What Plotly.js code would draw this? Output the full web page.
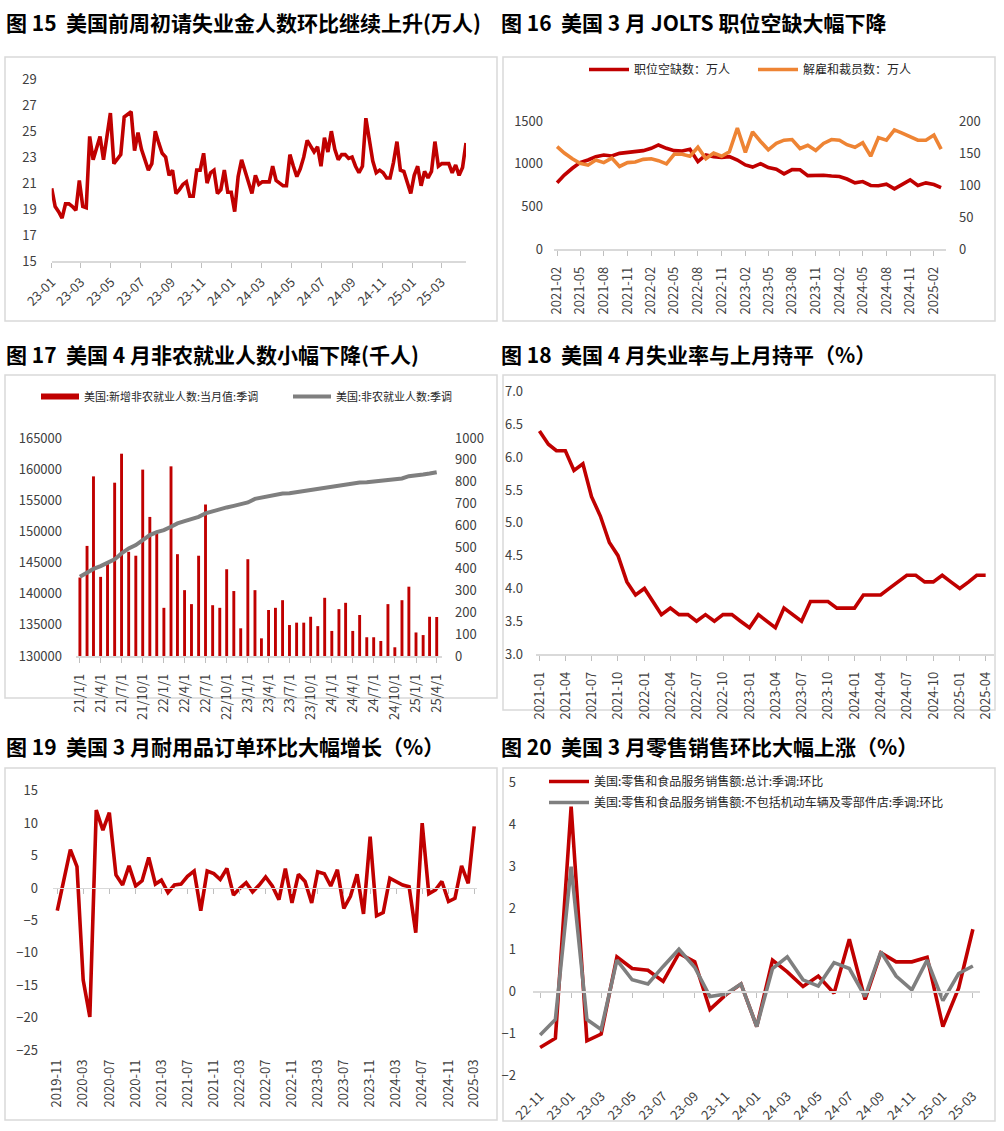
<!DOCTYPE html>
<html><head><meta charset="utf-8">
<script src="https://cdn.plot.ly/plotly-3.0.1.min.js"></script>
<style>html,body{margin:0;padding:0;background:#fff}#chart{width:1004px;height:1131px}</style>
</head><body><div id="chart"></div>
<script>
// ---------- Figure 15: weekly initial jobless claims (万人)
const claimsDates = ["2023-01-07","2023-01-14","2023-01-21","2023-01-28","2023-02-04","2023-02-11","2023-02-18","2023-02-25","2023-03-04","2023-03-11","2023-03-18","2023-03-25","2023-04-01","2023-04-08","2023-04-15","2023-04-22","2023-04-29","2023-05-06","2023-05-13","2023-05-20","2023-05-27","2023-06-03","2023-06-10","2023-06-17","2023-06-24","2023-07-01","2023-07-08","2023-07-15","2023-07-22","2023-07-29","2023-08-05","2023-08-12","2023-08-19","2023-08-26","2023-09-02","2023-09-09","2023-09-16","2023-09-23","2023-09-30","2023-10-07","2023-10-14","2023-10-21","2023-10-28","2023-11-04","2023-11-11","2023-11-18","2023-11-25","2023-12-02","2023-12-09","2023-12-16","2023-12-23","2023-12-30",
"2024-01-06","2024-01-13","2024-01-20","2024-01-27","2024-02-03","2024-02-10","2024-02-17","2024-02-24","2024-03-02","2024-03-09","2024-03-16","2024-03-23","2024-03-30","2024-04-06","2024-04-13","2024-04-20","2024-04-27","2024-05-04","2024-05-11","2024-05-18","2024-05-25","2024-06-01","2024-06-08","2024-06-15","2024-06-22","2024-06-29","2024-07-06","2024-07-13","2024-07-20","2024-07-27","2024-08-03","2024-08-10","2024-08-17","2024-08-24","2024-08-31","2024-09-07","2024-09-14","2024-09-21","2024-09-28","2024-10-05","2024-10-12","2024-10-19","2024-10-26","2024-11-02","2024-11-09","2024-11-16","2024-11-23","2024-11-30","2024-12-07","2024-12-14","2024-12-21","2024-12-28",
"2025-01-04","2025-01-11","2025-01-18","2025-01-25","2025-02-01","2025-02-08","2025-02-15","2025-02-22","2025-03-01","2025-03-08","2025-03-15","2025-03-22","2025-03-29","2025-04-05","2025-04-12","2025-04-19","2025-04-26"];
const claimsValues = [20.6,19.2,18.8,18.3,19.4,19.4,19.2,18.9,21.2,19.2,19.1,24.6,22.8,23.8,24.6,22.8,24.5,26.4,22.5,22.9,23.2,26.1,26.3,26.5,23.5,24.9,23.6,22.8,22.0,22.5,25.0,24.1,23.3,23.0,21.6,22.0,20.2,20.5,20.9,21.1,20.0,20.0,22.0,22.0,23.3,21.0,21.8,22.0,20.2,20.5,22.0,20.3,
20.3,18.8,21.5,22.8,22.0,21.0,20.2,21.6,20.9,21.1,21.1,21.1,22.3,21.2,21.0,20.8,20.8,23.2,22.3,21.5,22.1,23.0,24.3,23.8,23.4,23.8,22.3,24.5,23.4,25.0,23.6,22.8,23.2,23.2,22.9,23.0,22.3,21.8,22.3,26.0,24.1,22.7,21.8,22.0,21.8,21.4,21.4,22.6,24.2,22.0,21.9,21.1,
20.2,21.6,22.3,20.8,21.9,21.4,21.9,24.2,22.3,22.5,22.5,22.5,21.8,22.4,21.6,22.2,24.1];

// ---------- Figure 16: JOLTS
const joltsMonths = ["2021-02","2021-03","2021-04","2021-05","2021-06","2021-07","2021-08","2021-09","2021-10","2021-11","2021-12","2022-01","2022-02","2022-03","2022-04","2022-05","2022-06","2022-07","2022-08","2022-09","2022-10","2022-11","2022-12","2023-01","2023-02","2023-03","2023-04","2023-05","2023-06","2023-07","2023-08","2023-09","2023-10","2023-11","2023-12","2024-01","2024-02","2024-03","2024-04","2024-05","2024-06","2024-07","2024-08","2024-09","2024-10","2024-11","2024-12","2025-01","2025-02","2025-03"];
const joltsOpenings = [777,867,946,1012,1043,1082,1102,1090,1121,1129,1141,1153,1180,1219,1180,1153,1149,1168,1024,1102,1082,1074,1082,1043,985,960,1000,955,935,880,930,928,860,865,865,855,850,820,775,790,745,742,760,705,760,810,745,775,755,720];
const joltsLayoffs = [160,150,141,134,131,139,135,142,129,135,136,140,141,138,133,148,148,145,159,141,150,145,152,189,151,183,168,155,165,170,171,157,162,154,165,171,170,163,159,166,145,174,170,186,181,176,170,170,178,156];

// ---------- Figure 17: nonfarm payrolls
const nfpMonths = ["2021-01-01","2021-02-01","2021-03-01","2021-04-01","2021-05-01","2021-06-01","2021-07-01","2021-08-01","2021-09-01","2021-10-01","2021-11-01","2021-12-01","2022-01-01","2022-02-01","2022-03-01","2022-04-01","2022-05-01","2022-06-01","2022-07-01","2022-08-01","2022-09-01","2022-10-01","2022-11-01","2022-12-01","2023-01-01","2023-02-01","2023-03-01","2023-04-01","2023-05-01","2023-06-01","2023-07-01","2023-08-01","2023-09-01","2023-10-01","2023-11-01","2023-12-01","2024-01-01","2024-02-01","2024-03-01","2024-04-01","2024-05-01","2024-06-01","2024-07-01","2024-08-01","2024-09-01","2024-10-01","2024-11-01","2024-12-01","2025-01-01","2025-02-01","2025-03-01","2025-04-01"];
const nfpChange = [360,505,824,363,425,795,928,478,460,855,638,562,221,870,467,302,238,460,695,233,221,398,298,127,444,302,81,211,221,256,142,153,153,180,137,267,115,215,244,115,188,86,86,69,238,40,256,318,108,96,180,179];
const nfpTotal = [142720,143420,143980,144440,144970,145510,146470,147270,147800,148610,149410,149890,150210,150740,151290,151660,151980,152350,152890,153260,153530,153850,154110,154330,154650,155230,155450,155550,155770,156100,156140,156310,156520,156630,156840,157110,157270,157430,157590,157750,157860,157910,158020,158120,158230,158390,158500,158870,159080,159140,159300,159510];

// ---------- Figure 18: unemployment rate
const unempMonths = nfpMonths;
const unempRate = [6.4,6.2,6.1,6.1,5.8,5.9,5.4,5.1,4.7,4.5,4.1,3.9,4.0,3.8,3.6,3.7,3.6,3.6,3.5,3.6,3.5,3.6,3.6,3.5,3.4,3.6,3.5,3.4,3.7,3.6,3.5,3.8,3.8,3.8,3.7,3.7,3.7,3.9,3.9,3.9,4.0,4.1,4.2,4.2,4.1,4.1,4.2,4.1,4.0,4.1,4.2,4.2];

// ---------- Figure 19: durable goods orders MoM
const durMonths = ["2019-11","2019-12","2020-01","2020-02","2020-03","2020-04","2020-05","2020-06","2020-07","2020-08","2020-09","2020-10","2020-11","2020-12","2021-01","2021-02","2021-03","2021-04","2021-05","2021-06","2021-07","2021-08","2021-09","2021-10","2021-11","2021-12","2022-01","2022-02","2022-03","2022-04","2022-05","2022-06","2022-07","2022-08","2022-09","2022-10","2022-11","2022-12","2023-01","2023-02","2023-03","2023-04","2023-05","2023-06","2023-07","2023-08","2023-09","2023-10","2023-11","2023-12","2024-01","2024-02","2024-03","2024-04","2024-05","2024-06","2024-07","2024-08","2024-09","2024-10","2024-11","2024-12","2025-01","2025-02","2025-03"];
const durValues = [-3.5,1.2,5.9,3.3,-14.2,-19.9,12.0,8.9,11.6,2.0,0.45,3.4,0.3,1.1,4.7,0.6,1.2,-0.7,0.45,0.6,1.8,2.6,-3.5,2.6,2.2,1.3,3.0,-1.1,-0.1,0.8,-0.6,0.45,1.7,0.3,-1.8,3.0,-2.3,2.1,1.0,-2.3,2.5,2.2,0.3,2.8,-3.15,-1.3,2.1,-4.0,7.9,-4.3,-3.8,1.5,1.0,0.45,0.2,-6.9,10.0,-0.9,-0.3,1.0,-2.1,-1.6,3.4,0.7,9.5];

// ---------- Figure 20: retail sales MoM
const retailMonths = ["2022-11","2022-12","2023-01","2023-02","2023-03","2023-04","2023-05","2023-06","2023-07","2023-08","2023-09","2023-10","2023-11","2023-12","2024-01","2024-02","2024-03","2024-04","2024-05","2024-06","2024-07","2024-08","2024-09","2024-10","2024-11","2024-12","2025-01","2025-02","2025-03"];
const retailTotal = [-1.34,-1.12,4.43,-1.18,-1.02,0.83,0.55,0.51,0.24,0.91,0.71,-0.43,-0.08,0.18,-0.84,0.75,0.47,0.12,0.37,-0.04,1.25,-0.19,0.93,0.71,0.71,0.82,-0.84,0.08,1.49];
const retailExAuto = [-1.04,-0.67,2.99,-0.67,-0.91,0.75,0.28,0.18,0.60,1.01,0.58,-0.12,-0.06,0.18,-0.84,0.55,0.83,0.28,0.13,0.69,0.55,-0.12,0.95,0.37,0.04,0.75,-0.22,0.43,0.61];

const titles = [
  "图 15  美国前周初请失业金人数环比继续上升(万人)",
  "图 16  美国 3 月 JOLTS 职位空缺大幅下降",
  "图 17  美国 4 月非农就业人数小幅下降(千人)",
  "图 18  美国 4 月失业率与上月持平（%）",
  "图 19  美国 3 月耐用品订单环比大幅增长（%）",
  "图 20  美国 3 月零售销售环比大幅上涨（%）"
];

// ---------- styling / layout helpers
const W = 1004, H = 1131;
const FONT = '"Noto Sans CJK SC","Noto Sans",sans-serif';
const RED = '#C00000', ORANGE = '#EE8434', GRAY = '#7F7F7F';
const AXC = '#D9D9D9', TXT = '#404040';
const dx = (a, b) => [a / W, b / W];
const dy = (t, b) => [1 - b / H, 1 - t / H];
const tf = {family: FONT, size: 13, color: TXT};

function yax(dom, range, dtick, extra) {
  return Object.assign({domain: dom, range: range, dtick: dtick, tick0: range[0], showgrid: false,
    zeroline: false, showline: false, ticks: '', tickfont: tf, ticklabelstandoff: 12, fixedrange: true}, extra || {});
}
function xax(dom, range, tick0, dtick, fmt, angle, extra) {
  return Object.assign({domain: dom, type: 'date', range: range, tick0: tick0, dtick: dtick, tickformat: fmt,
    tickangle: angle, showgrid: false, zeroline: false, showline: true, linecolor: AXC, linewidth: 1.5,
    ticks: 'outside', ticklen: 5, tickcolor: '#BFBFBF', tickwidth: 1, tickfont: tf, fixedrange: true}, extra || {});
}

const y5dom = dy(790.7, 1050), y6dom = dy(782.7, 1075);
const zero5 = y5dom[0] + (0 - (-25)) / (15 - (-25)) * (y5dom[1] - y5dom[0]);
const zero6 = y6dom[0] + (0 - (-2)) / (5 - (-2)) * (y6dom[1] - y6dom[0]);

const x5range = ['2019-10-12', '2025-03-14'];
const x6range = ['2022-10-18', '2025-03-15'];

const layout = {
  width: W, height: H, margin: {l: 0, r: 0, t: 0, b: 0, autoexpand: false},
  paper_bgcolor: '#fff', plot_bgcolor: 'rgba(0,0,0,0)',
  font: {family: FONT, color: TXT}, bargap: 0.55, showlegend: true,
  // panel 1
  xaxis: xax(dx(51.7, 466), ['2023-01-07', '2025-04-26'], '2023-01-07', 'M2', '%y-%m', -45, {anchor: 'y', ticklabelstandoff: 2}),
  yaxis: yax(dy(79.3, 261), [15, 29], 2, {anchor: 'x', ticklabelstandoff: 14}),
  // panel 2
  xaxis2: xax(dx(554, 946), ['2021-01-20', '2025-03-20'], '2021-02-01', 'M3', '%Y-%m', -90, {anchor: 'y2', ticklabelstandoff: 6}),
  yaxis2: yax(dy(121, 249), [0, 1500], 500, {anchor: 'x2', ticklabelstandoff: 10}),
  yaxis3: yax(dy(121, 249), [0, 200], 50, {anchor: 'x2', overlaying: 'y2', side: 'right', ticklabelstandoff: 12}),
  // panel 3
  xaxis3: xax(dx(76, 442), ['2020-12-15', '2025-04-24'], '2021-01-01', 'M3', '%y/%-m/%-d', -90, {anchor: 'y4', ticklabelstandoff: 6}),
  yaxis4: yax(dy(438, 656), [0, 1000], 100, {anchor: 'x3', side: 'right', ticklabelstandoff: 12}),
  yaxis5: yax(dy(438, 656), [130000, 165000], 5000, {anchor: 'x3', overlaying: 'y4', side: 'left', tickformat: 'd', ticklabelstandoff: 13}),
  // panel 4
  xaxis4: xax(dx(536, 994), ['2020-12-20', '2025-04-30'], '2021-01-01', 'M3', '%Y-%m', -90, {anchor: 'y6', ticklabelstandoff: 6}),
  yaxis6: yax(dy(391.7, 654), [3, 7], 0.5, {anchor: 'x4', tickformat: '.1f', ticklabelstandoff: 12}),
  // panel 5
  xaxis5: xax(dx(53, 477), x5range, '2019-11-01', 'M4', '%Y-%m', -90, {anchor: 'y7', showline: false, ticks: '', ticklabelstandoff: 6}),
  xaxis7: xax(dx(53, 477), x5range, '2019-11-01', 'M4', '%Y-%m', 0, {anchor: 'free', overlaying: 'x5', position: zero5, showticklabels: false}),
  yaxis7: yax(y5dom, [-25, 15], 5, {anchor: 'x5', ticklabelstandoff: 14}),
  // panel 6
  xaxis6: xax(dx(533, 980), x6range, '2022-11-01', 'M2', '%y-%m', -45, {anchor: 'y8', showline: false, ticks: '', ticklabelstandoff: 10}),
  xaxis8: xax(dx(533, 980), x6range, '2022-11-01', 'M2', '%y-%m', 0, {anchor: 'free', overlaying: 'x6', position: zero6, showticklabels: false}),
  yaxis8: yax(y6dom, [-2, 5], 1, {anchor: 'x6', ticklabelstandoff: 16}),
  legend: {orientation: 'h', x: 584 / W, y: 1 - 55 / H, xanchor: 'left', yanchor: 'top', bgcolor: 'rgba(0,0,0,0)',
    font: {family: FONT, size: 12, color: '#262626'}, entrywidth: 114, entrywidthmode: 'pixels', itemwidth: 40},
  legend2: {orientation: 'h', x: 36 / W, y: 1 - 382 / H, xanchor: 'left', yanchor: 'top', bgcolor: 'rgba(0,0,0,0)',
    font: {family: FONT, size: 11, color: '#262626'}, entrywidth: 199, entrywidthmode: 'pixels', itemwidth: 38},
  legend3: {orientation: 'v', x: 544 / W, y: 1 - 767 / H, xanchor: 'left', yanchor: 'top', bgcolor: 'rgba(0,0,0,0)',
    font: {family: FONT, size: 12, color: '#262626'}, itemwidth: 40, tracegroupgap: 2},
  shapes: [
    [5, 57, 497, 321], [503, 57, 995, 321],
    [5, 375, 497, 698], [503, 375, 995, 710],
    [5, 768, 497, 1120], [503, 768, 995, 1121]
  ].map(r => ({type: 'rect', xref: 'paper', yref: 'paper', x0: r[0] / W, x1: r[2] / W, y0: 1 - r[3] / H, y1: 1 - r[1] / H,
    line: {color: AXC, width: 1.5}, fillcolor: 'rgba(0,0,0,0)', layer: 'below'})),
  annotations: titles.map((t, i) => ({text: '<b>' + t + '</b>', xref: 'paper', yref: 'paper', showarrow: false,
    x: (i % 2 === 0 ? 4 : 499) / W, y: 1 - [22, 22, 354, 354, 746, 746][i] / H, xanchor: 'left', yanchor: 'middle', align: 'left',
    font: {family: FONT, size: 21, color: '#000'}}))
};

const traces = [
  {type: 'scatter', mode: 'lines', x: claimsDates, y: claimsValues, xaxis: 'x', yaxis: 'y', line: {color: RED, width: 3.6}, showlegend: false},
  {type: 'scatter', mode: 'lines', x: joltsMonths, y: joltsOpenings, xaxis: 'x2', yaxis: 'y2', line: {color: RED, width: 3.6}, name: '职位空缺数：万人', legend: 'legend'},
  {type: 'scatter', mode: 'lines', x: joltsMonths, y: joltsLayoffs, xaxis: 'x2', yaxis: 'y3', line: {color: ORANGE, width: 3.6}, name: '解雇和裁员数：万人', legend: 'legend'},
  {type: 'bar', x: nfpMonths, y: nfpChange, xaxis: 'x3', yaxis: 'y4', marker: {color: RED}, showlegend: false},
  {type: 'scatter', mode: 'lines', x: [null], y: [null], xaxis: 'x3', yaxis: 'y4', line: {color: RED, width: 6}, name: '美国:新增非农就业人数:当月值:季调', legend: 'legend2'},
  {type: 'scatter', mode: 'lines', x: nfpMonths, y: nfpTotal, xaxis: 'x3', yaxis: 'y5', line: {color: GRAY, width: 4}, name: '美国:非农就业人数:季调', legend: 'legend2'},
  {type: 'scatter', mode: 'lines', x: unempMonths, y: unempRate, xaxis: 'x4', yaxis: 'y6', line: {color: RED, width: 3.6}, showlegend: false},
  {type: 'scatter', mode: 'lines', x: durMonths, y: durValues, xaxis: 'x5', yaxis: 'y7', line: {color: RED, width: 3.6}, showlegend: false},
  {type: 'scatter', mode: 'lines', x: [], y: [], xaxis: 'x7', yaxis: 'y7', showlegend: false, hoverinfo: 'skip'},
  {type: 'scatter', mode: 'lines', x: retailMonths, y: retailTotal, xaxis: 'x6', yaxis: 'y8', line: {color: RED, width: 3.6}, name: '美国:零售和食品服务销售额:总计:季调:环比', legend: 'legend3', legendgroup: 'a'},
  {type: 'scatter', mode: 'lines', x: retailMonths, y: retailExAuto, xaxis: 'x6', yaxis: 'y8', line: {color: GRAY, width: 3.6}, name: '美国:零售和食品服务销售额:不包括机动车辆及零部件店:季调:环比', legend: 'legend3', legendgroup: 'b'},
  {type: 'scatter', mode: 'lines', x: [], y: [], xaxis: 'x8', yaxis: 'y8', showlegend: false, hoverinfo: 'skip'}
];

Plotly.newPlot('chart', traces, layout, {staticPlot: true, displayModeBar: false});
</script></body></html>
